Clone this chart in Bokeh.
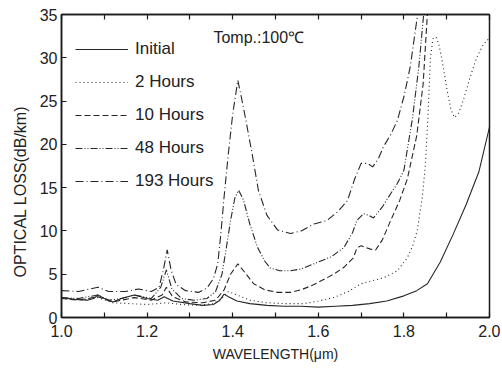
from bokeh.plotting import figure
from bokeh.models import FixedTicker, Range1d, Label, LinearAxis, Title, PrintfTickFormatter
from bokeh.embed import file_html
from bokeh.resources import INLINE

FONT = "Liberation Sans"

# ---- data ----
wl_initial = [1.00, 1.03, 1.06, 1.075, 1.085, 1.10, 1.12, 1.14, 1.17, 1.20, 1.225, 1.24, 1.26, 1.30, 1.33,
              1.355, 1.37, 1.38, 1.39, 1.41, 1.44, 1.48, 1.52, 1.56, 1.60, 1.64, 1.68, 1.72, 1.76, 1.80,
              1.83, 1.855, 1.885, 1.915, 1.945, 1.975, 2.00]
loss_initial = [2.3, 2.1, 2.0, 2.2, 2.6, 2.2, 1.8, 2.2, 2.6, 2.2, 2.0, 2.4, 1.9, 1.6, 1.4,
                1.5, 2.0, 2.7, 2.4, 1.9, 1.6, 1.4, 1.3, 1.3, 1.2, 1.3, 1.4, 1.6, 1.9, 2.5,
                3.1, 3.9, 6.4, 9.6, 13.0, 16.8, 22.0]

wl_2h = [1.00, 1.05, 1.085, 1.12, 1.16, 1.20, 1.245, 1.28, 1.32, 1.355, 1.375, 1.39, 1.41, 1.44,
         1.48, 1.52, 1.566, 1.60, 1.636, 1.67, 1.70, 1.73, 1.753, 1.785, 1.808, 1.82, 1.831, 1.843,
         1.85, 1.856, 1.862, 1.868, 1.875, 1.882, 1.89, 1.90, 1.91, 1.918, 1.928, 1.94, 1.955,
         1.97, 1.985, 2.0]
loss_2h = [2.2, 2.0, 2.3, 1.7, 1.6, 1.5, 1.7, 1.5, 1.4, 1.6, 2.2, 3.0, 2.6, 2.0,
           1.7, 1.6, 1.6, 1.9, 2.3, 3.0, 3.9, 4.3, 4.6, 5.4, 6.9, 8.2, 10.0, 13.9,
           17.5, 23.0, 30.0, 32.2, 32.4, 31.5, 29.5, 26.5, 24.0, 23.1, 23.6, 25.3, 27.8,
           30.0, 31.5, 32.3]

wl_10h = [1.00, 1.04, 1.085, 1.12, 1.17, 1.21, 1.235, 1.245, 1.26, 1.29, 1.33, 1.36, 1.38, 1.395,
          1.412, 1.43, 1.449, 1.475, 1.505, 1.535, 1.56, 1.59, 1.636, 1.66, 1.682, 1.69, 1.70,
          1.71, 1.722, 1.734, 1.75, 1.769, 1.79, 1.808, 1.83, 1.845, 1.856]
loss_10h = [2.2, 2.0, 2.4, 1.8, 2.3, 2.0, 2.6, 3.5, 2.4, 1.8, 1.7, 2.0, 3.2, 5.0,
            6.2, 5.1, 3.9, 3.2, 2.9, 2.9, 3.2, 3.8, 5.0, 5.8, 6.9, 8.0, 8.3,
            8.1, 7.9, 7.8, 9.0, 11.2, 13.5, 16.0, 21.0, 27.0, 36.0]

wl_48h = [1.00, 1.04, 1.085, 1.11, 1.14, 1.17, 1.21, 1.232, 1.245, 1.258, 1.28, 1.31, 1.34, 1.36,
          1.375, 1.385, 1.395, 1.405, 1.414, 1.425, 1.44, 1.458, 1.475, 1.488, 1.51, 1.535, 1.56,
          1.60, 1.63, 1.66, 1.68, 1.69, 1.706, 1.718, 1.729, 1.75, 1.769, 1.785, 1.80, 1.82,
          1.835, 1.848]
loss_48h = [2.3, 2.2, 2.6, 2.0, 2.2, 2.6, 2.2, 3.5, 5.5, 3.3, 2.2, 2.0, 2.2, 3.0,
            5.0, 8.0, 11.2, 13.8, 14.7, 13.6, 10.8, 8.1, 6.5, 5.7, 5.4, 5.4, 5.6,
            6.4, 7.0, 8.1, 9.8, 11.2, 12.0, 11.8, 11.5, 12.8, 14.3, 15.5, 17.0, 23.0,
            29.0, 36.0]

wl_193h = [1.00, 1.04, 1.085, 1.11, 1.15, 1.18, 1.21, 1.228, 1.238, 1.247, 1.256, 1.268, 1.29,
           1.32, 1.34, 1.355, 1.365, 1.372, 1.38, 1.39, 1.40, 1.412, 1.42, 1.43, 1.445, 1.46,
           1.48, 1.505, 1.535, 1.56, 1.59, 1.62, 1.645, 1.668, 1.685, 1.70, 1.715, 1.727, 1.74,
           1.752, 1.77, 1.785, 1.80, 1.815, 1.832, 1.838]
loss_193h = [3.1, 3.0, 3.5, 3.0, 3.0, 3.3, 3.0, 3.5, 5.5, 7.8, 5.5, 3.8, 3.1,
             2.9, 3.4, 4.5, 6.2, 9.5, 14.0, 19.0, 23.5, 27.4, 25.5, 23.0, 19.0, 14.7,
             11.8, 10.1, 9.7, 10.0, 10.8, 11.2, 12.2, 13.5, 16.0, 17.8, 17.8, 17.4, 18.3,
             19.7, 21.2, 22.8, 25.5, 29.0, 35.0, 37.0]

series_labels = ["Initial", "2 Hours", "10 Hours", "48 Hours", "193 Hours"]

x_major_ticks = [1.0, 1.2, 1.4, 1.6, 1.8, 2.0]
x_minor_ticks = [1.1, 1.3, 1.5, 1.7, 1.9]
x_all_ticks = [1.0, 1.1, 1.2, 1.3, 1.4, 1.5, 1.6, 1.7, 1.8, 1.9, 2.0]
y_ticks = [0, 5, 10, 15, 20, 25, 30, 35]

x_title = "WAVELENGTH(\u03bcm)"
y_title = "OPTICAL LOSS(dB/km)"
temp_text = "Tomp.:100\u2103"

INK = "#262626"
TXT = "#222222"

# ---- figure ----
p = figure(width=500, height=370, output_backend="svg", toolbar_location=None,
           x_range=Range1d(1.0, 2.0), y_range=Range1d(0, 35),
           min_border_left=61, min_border_right=11, min_border_top=14, min_border_bottom=53)
p.grid.visible = False
p.background_fill_color = "white"
p.border_fill_color = "white"
p.outline_line_color = "#1a1a1a"
p.outline_line_width = 1.5

xa = p.xaxis[0]
xa.ticker = FixedTicker(ticks=x_major_ticks, minor_ticks=x_minor_ticks)
xa.formatter = PrintfTickFormatter(format="%.1f")
ya = p.yaxis[0]
ya.ticker = FixedTicker(ticks=y_ticks)

for ax in (xa, ya):
    ax.axis_line_color = "#1a1a1a"
    ax.axis_line_width = 1.5
    ax.major_tick_in = 5
    ax.major_tick_out = 0
    ax.minor_tick_in = 5
    ax.minor_tick_out = 0
    ax.minor_tick_line_color = "#1a1a1a"
    ax.minor_tick_line_width = 1.2
    ax.major_tick_line_color = "#1a1a1a"
    ax.major_tick_line_width = 1.2
    ax.major_label_text_font = FONT
    ax.major_label_text_font_size = "16px"
    ax.major_label_text_color = TXT
ya.minor_tick_line_color = None
xa.major_label_standoff = 7
ya.major_label_standoff = 4
xa.axis_label = x_title
xa.axis_label_text_font = FONT
xa.axis_label_text_font_size = "14px"
xa.axis_label_text_font_style = "normal"
xa.axis_label_text_color = TXT
xa.axis_label_standoff = 6

top = LinearAxis(ticker=FixedTicker(ticks=[], minor_ticks=x_all_ticks),
                 minor_tick_in=5, minor_tick_out=0, major_tick_in=0, major_tick_out=0,
                 minor_tick_line_color="#1a1a1a", minor_tick_line_width=1.2,
                 axis_line_color="#1a1a1a", axis_line_width=1.5)
p.add_layout(top, "above")

p.add_layout(Title(text=y_title, align="left", offset=40, text_font=FONT,
                   text_font_size="16px", text_font_style="normal", text_color=TXT,
                   standoff=16), "left")

lw = 1.1
p.line(wl_initial, loss_initial, line_color=INK, line_width=lw, legend_label=series_labels[0])
p.line(wl_2h, loss_2h, line_color=INK, line_width=lw, line_dash="1 3", legend_label=series_labels[1])
p.line(wl_10h, loss_10h, line_color=INK, line_width=lw, line_dash="6 3", legend_label=series_labels[2])
p.line(wl_48h, loss_48h, line_color=INK, line_width=lw, line_dash="7 2 1 2 1 2", legend_label=series_labels[3])
p.line(wl_193h, loss_193h, line_color=INK, line_width=lw, line_dash="8 3 1 3", legend_label=series_labels[4])

lg = p.legend[0]
lg.location = (14, 126)
lg.glyph_width = 53
lg.glyph_height = 20
lg.label_height = 20
lg.label_standoff = 7
lg.spacing = 13
lg.padding = 0
lg.margin = 0
lg.border_line_color = None
lg.background_fill_alpha = 0
lg.label_text_font = FONT
lg.label_text_font_size = "17px"
lg.label_text_color = TXT

p.add_layout(Label(x=1.355, y=32.4, text=temp_text, text_font=FONT, text_font_size="16px",
                   text_baseline="middle", text_align="left", text_color=TXT))

open("out.html", "w").write(file_html(p, INLINE))
